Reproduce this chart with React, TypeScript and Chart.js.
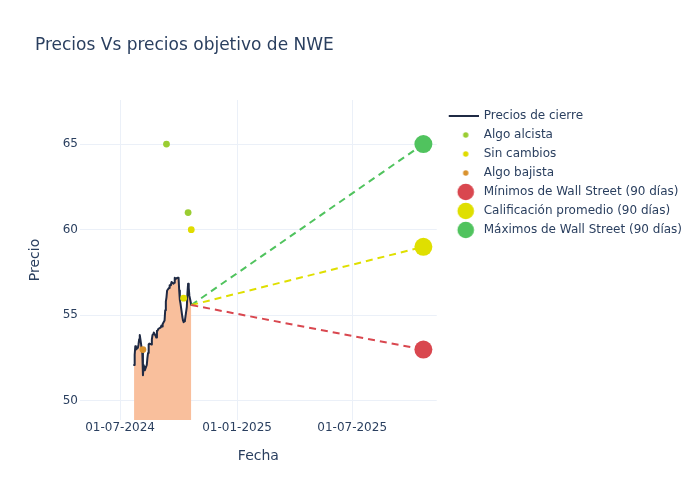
import { useEffect, useRef } from 'react';
import { Chart, registerables } from 'chart.js';

Chart.register(...registerables);

// ---- Data ----
const priceDates = [
  '2024-07-23', '2024-07-24', '2024-07-25', '2024-07-26', '2024-07-29', '2024-07-30', '2024-07-31',
  '2024-08-01', '2024-08-02', '2024-08-05', '2024-08-06', '2024-08-07', '2024-08-08', '2024-08-09',
  '2024-08-12', '2024-08-13', '2024-08-14', '2024-08-15', '2024-08-16', '2024-08-19', '2024-08-20',
  '2024-08-21', '2024-08-22', '2024-08-23', '2024-08-26', '2024-08-27', '2024-08-28', '2024-08-29',
  '2024-08-30', '2024-09-03', '2024-09-04', '2024-09-05', '2024-09-06', '2024-09-09', '2024-09-10',
  '2024-09-11', '2024-09-12', '2024-09-13', '2024-09-16', '2024-09-17', '2024-09-18', '2024-09-19',
  '2024-09-20', '2024-09-23', '2024-09-24', '2024-09-25', '2024-09-26', '2024-09-27', '2024-09-30',
  '2024-10-01', '2024-10-02', '2024-10-03', '2024-10-04', '2024-10-07', '2024-10-08', '2024-10-09',
  '2024-10-10', '2024-10-11', '2024-10-14', '2024-10-15', '2024-10-16', '2024-10-17', '2024-10-18',
  '2024-10-21',
];
const closePrices = [
  52.1, 52.7, 53.2, 53.0, 53.1, 53.3, 53.6,
  53.85, 53.6, 52.8, 51.5, 52.1, 52.0, 51.8,
  52.1, 52.5, 52.8, 53.3, 53.35, 53.3, 53.6,
  53.85, 53.9, 54.0, 53.8, 53.7, 54.1, 54.1,
  54.2, 54.3, 54.4, 54.35, 54.5, 54.7, 55.3,
  55.8, 56.05, 56.45, 56.6, 56.75, 56.75, 56.8,
  56.95, 56.85, 56.9, 57.2, 57.1, 57.15, 57.2,
  57.2, 56.45, 55.9, 55.7, 54.9, 54.7, 54.6,
  54.65, 54.7, 55.5, 56.3, 56.85, 56.6, 56.15,
  55.6,
];

const bullishDates = ['2024-09-12', '2024-10-16'];
const bullishTargets = [65, 61];
const neutralDates = ['2024-10-09', '2024-10-21'];
const neutralTargets = [56, 60];
const bearishDates = ['2024-08-06'];
const bearishTargets = [53];

const forecastDate = '2025-10-21';
const lowTarget = 53;
const averageTarget = 59;
const highTarget = 65;

const xTickDates = ['2024-07-01', '2025-01-01', '2025-07-01'];
const yTickValues = [50, 55, 60, 65];
const xRange = ['2024-04-29', '2025-11-11'];
const yRange = [48.89, 67.57];

const legendNames = [
  'Precios de cierre',
  'Algo alcista',
  'Sin cambios',
  'Algo bajista',
  'Mínimos de Wall Street (90 días)',
  'Calificación promedio (90 días)',
  'Máximos de Wall Street (90 días)',
];

// ---- Styles ----
const TEXT = '#2a3f5f';
const GRID = '#ebf0f8';
const FONT = 'DejaVu Sans';
const LINE_COLOR = '#1f2a44';
const FILL_COLOR = '#f9bf9c';
const BULL_COLOR = '#9acd32';
const NEUTRAL_COLOR = '#e0dc00';
const BEAR_COLOR = '#d9922e';
const LOW_COLOR = '#d9474f';
const AVG_COLOR = '#dfdf00';
const HIGH_COLOR = '#50c35e';

const ms = (s: string) => Date.parse(s + 'T00:00:00Z');
const pts = (dates: string[], vals: number[]) => dates.map((d, i) => ({ x: ms(d), y: vals[i] }));
const fmtDate = (v: number) => {
  const d = new Date(v);
  const dd = String(d.getUTCDate()).padStart(2, '0');
  const mm = String(d.getUTCMonth() + 1).padStart(2, '0');
  return `${dd}-${mm}-${d.getUTCFullYear()}`;
};

function legendIcon(kind: 'line' | 'dot' | 'big', color: string) {
  const c = document.createElement('canvas');
  c.width = 36;
  c.height = 20;
  const g = c.getContext('2d')!;
  if (kind === 'line') {
    g.strokeStyle = color;
    g.lineWidth = 2;
    g.beginPath();
    g.moveTo(6, 10);
    g.lineTo(36, 10);
    g.stroke();
  } else {
    g.fillStyle = color;
    g.beginPath();
    g.arc(23, 10, kind === 'dot' ? 2.7 : 8.3, 0, Math.PI * 2);
    g.fill();
  }
  return c;
}

export default function App() {
  const ref = useRef<HTMLCanvasElement | null>(null);

  useEffect(() => {
    document.body.style.margin = '0';
    const canvas = ref.current!;
    const lastX = ms(priceDates[priceDates.length - 1]);
    const lastY = closePrices[closePrices.length - 1];
    const fx = ms(forecastDate);

    const icons = [
      legendIcon('line', LINE_COLOR),
      legendIcon('dot', BULL_COLOR),
      legendIcon('dot', NEUTRAL_COLOR),
      legendIcon('dot', BEAR_COLOR),
      legendIcon('big', LOW_COLOR),
      legendIcon('big', AVG_COLOR),
      legendIcon('big', HIGH_COLOR),
    ];

    const dashed = (target: number, color: string) => ({
      type: 'line' as const,
      data: [{ x: lastX, y: lastY }, { x: fx, y: target }],
      borderColor: color,
      borderWidth: 2,
      borderDash: [7, 5],
      pointRadius: 0,
      fill: false,
      order: 4,
    });
    const dots = (data: any[], color: string, r: number, order: number) => ({
      type: 'scatter' as const,
      data,
      backgroundColor: color,
      borderColor: color,
      borderWidth: 0,
      pointRadius: r,
      pointHoverRadius: r,
      order,
    });

    const chart = new Chart(canvas, {
      type: 'line',
      data: {
        datasets: [
          {
            type: 'line',
            label: legendNames[0],
            data: pts(priceDates, closePrices),
            borderColor: LINE_COLOR,
            borderWidth: 2,
            borderJoinStyle: 'round',
            borderCapStyle: 'round',
            backgroundColor: FILL_COLOR,
            fill: 'start',
            pointRadius: 0,
            tension: 0,
            order: 5,
          },
          { label: legendNames[1], ...dots(pts(bullishDates, bullishTargets), BULL_COLOR, 3.4, 2) },
          { label: legendNames[2], ...dots(pts(neutralDates, neutralTargets), NEUTRAL_COLOR, 3.4, 2) },
          { label: legendNames[3], ...dots(pts(bearishDates, bearishTargets), BEAR_COLOR, 3.4, 2) },
          { label: legendNames[4], ...dots([{ x: fx, y: lowTarget }], LOW_COLOR, 9, 1) },
          { label: legendNames[5], ...dots([{ x: fx, y: averageTarget }], AVG_COLOR, 9, 1) },
          { label: legendNames[6], ...dots([{ x: fx, y: highTarget }], HIGH_COLOR, 9, 1) },
          { label: 'low-line', ...dashed(lowTarget, LOW_COLOR) },
          { label: 'avg-line', ...dashed(averageTarget, AVG_COLOR) },
          { label: 'high-line', ...dashed(highTarget, HIGH_COLOR) },
        ] as any,
      },
      options: {
        animation: false,
        responsive: false,
        devicePixelRatio: 1,
        layout: { padding: { left: 35, right: 8, top: 0, bottom: 0 } },
        font: { family: FONT },
        scales: {
          x: {
            type: 'linear',
            min: ms(xRange[0]),
            max: ms(xRange[1]),
            afterBuildTicks: (s: any) => {
              s.ticks = xTickDates.map((d) => ({ value: ms(d) }));
            },
            afterFit: (s: any) => {
              s.height = 80;
            },
            ticks: {
              callback: (v: any) => fmtDate(Number(v)),
              color: TEXT,
              font: { family: FONT, size: 12 },
              padding: 1,
              maxRotation: 0,
              autoSkip: false,
            },
            grid: { color: GRID, lineWidth: 1, drawTicks: false },
            border: { display: false },
            title: {
              display: true,
              text: 'Fecha',
              color: TEXT,
              font: { family: FONT, size: 14 },
              padding: { top: 0, bottom: 35.6 },
            },
          },
          y: {
            type: 'linear',
            min: yRange[0],
            max: yRange[1],
            afterBuildTicks: (s: any) => {
              s.ticks = yTickValues.map((v) => ({ value: v }));
            },
            afterFit: (s: any) => {
              s.width = 45;
            },
            ticks: {
              color: TEXT,
              font: { family: FONT, size: 12 },
              padding: 2,
            },
            grid: { color: GRID, lineWidth: 1, drawTicks: false },
            border: { display: false },
            title: {
              display: true,
              text: 'Precio',
              color: TEXT,
              font: { family: FONT, size: 14 },
              padding: { top: -8.4, bottom: 0 },
            },
          },
        },
        plugins: {
          tooltip: { enabled: false },
          title: {
            display: true,
            text: 'Precios Vs precios objetivo de NWE',
            align: 'start',
            color: TEXT,
            font: { family: FONT, size: 17, weight: 'normal' },
            padding: { top: 35.8, bottom: 43.8 },
          },
          legend: {
            position: 'right',
            align: 'start',
            fullSize: false,
            maxWidth: 320,
            onClick: () => {},
            title: { display: true, text: '', padding: 0, font: { size: 2.5 } },
            labels: {
              usePointStyle: true,
              pointStyleWidth: 34,
              padding: 7,
              color: TEXT,
              font: { family: FONT, size: 12 },
              generateLabels: () =>
                legendNames.map((name, i) => ({
                  text: name,
                  pointStyle: icons[i] as any,
                  fillStyle: 'transparent',
                  strokeStyle: 'transparent',
                  lineWidth: 0,
                  hidden: false,
                  datasetIndex: i,
                  fontColor: TEXT,
                })),
            },
          },
        },
      } as any,
    });
    return () => chart.destroy();
  }, []);

  return (
    <div style={{ position: 'fixed', left: 0, top: 0, width: 700, height: 500, background: '#fff' }}>
      <canvas ref={ref} width={700} height={500} style={{ width: 700, height: 500 }} />
    </div>
  );
}
